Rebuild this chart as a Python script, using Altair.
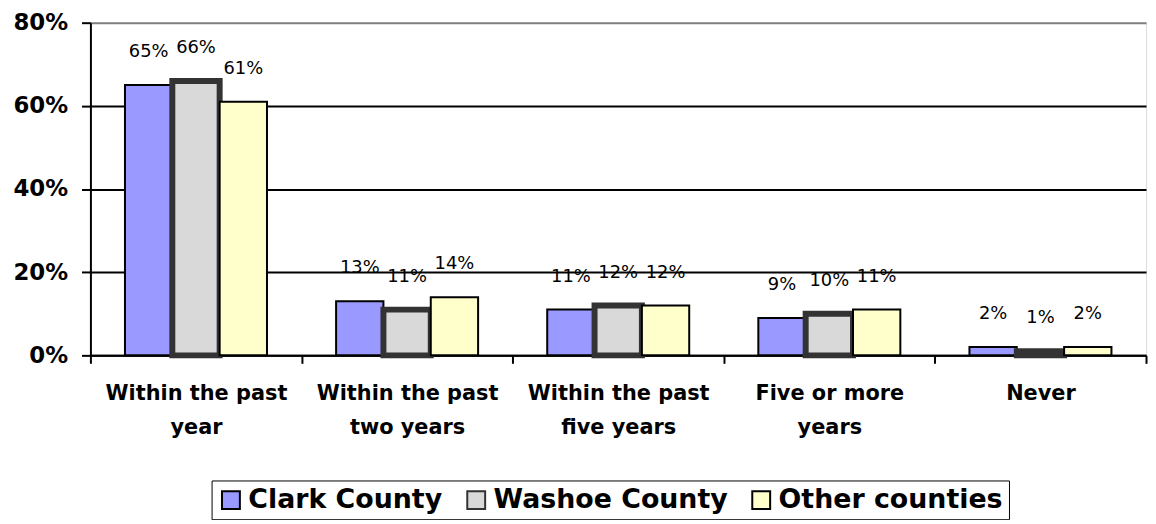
import altair as alt
import pandas as pd

categories = ["Within the past year", "Within the past two years",
              "Within the past five years", "Five or more years", "Never"]
label_lines = [["Within the past", "year"], ["Within the past", "two years"],
               ["Within the past", "five years"], ["Five or more", "years"], ["Never"]]
series = ["Clark County", "Washoe County", "Other counties"]
clark = [65, 13, 11, 9, 2]
washoe = [66, 11, 12, 10, 1]
other = [61, 14, 12, 11, 2]
y_ticks = [0, 20, 40, 60, 80]
colors = ["#9999ff", "#d9d9d9", "#ffffcc"]
strokes = ["#000000", "#333333", "#000000"]

rows = []
for s, vals in zip(series, [clark, washoe, other]):
    for c, v in zip(categories, vals):
        rows.append({"category": c, "county": s, "value": v})
df = pd.DataFrame(rows)

# build label expression for multi-line x labels
expr = "''"
for c, lines in reversed(list(zip(categories, label_lines))):
    arr = "[" + ",".join("'" + l + "'" for l in lines) + "]"
    expr = f"datum.value == '{c}' ? {arr} : ({expr})"

FONT = "DejaVu Sans"

x = alt.X("category:N", sort=categories, title=None,
          scale=alt.Scale(paddingInner=0, paddingOuter=0),
          axis=alt.Axis(labelAngle=0, labelExpr=expr, labelFontSize=21,
                        labelFontWeight="bold", labelColor="black",
                        labelFont=FONT, labelPadding=19, labelLineHeight=35,
                        tickBand="extent", tickSize=8, tickWidth=2,
                        tickColor="black", domainColor="black", domainWidth=2,
                        labelLimit=300))
xo = alt.XOffset("county:N", sort=series,
                 scale=alt.Scale(paddingOuter=0.73, paddingInner=0))
y = alt.Y("value:Q", title=None,
          scale=alt.Scale(domain=[0, 80], nice=False),
          axis=alt.Axis(values=y_ticks, labelExpr="datum.value + '%'",
                        labelFontSize=23, labelFontWeight="bold",
                        labelColor="black", labelFont=FONT, labelPadding=14,
                        tickSize=9, tickWidth=2, tickColor="black",
                        domainColor="black", domainWidth=2,
                        grid=True, gridWidth=2,
                        gridColor={"condition": {"test": "datum.value >= 80", "value": "#808080"},
                                   "value": "black"}))

base = alt.Chart(df)

bars = base.mark_bar().encode(
    x=x, xOffset=xo, y=y,
    fill=alt.Fill("county:N", sort=series,
                  scale=alt.Scale(domain=series, range=colors),
                  legend=alt.Legend(title=None, orient="none", legendX=122,
                                    legendY=461, direction="horizontal",
                                    strokeColor="black", fillColor="white",
                                    padding=6, symbolType="square",
                                    symbolSize=324, symbolStrokeWidth=2,
                                    labelFontSize=27, labelFontWeight="bold",
                                    labelFont=FONT, labelColor="black",
                                    labelOffset=4, columnPadding=20,
                                    labelLimit=400, symbolOpacity=1)),
    stroke=alt.Stroke("county:N", sort=series,
                      scale=alt.Scale(domain=series, range=strokes), legend=None),
    strokeWidth=alt.condition("datum.county == 'Washoe County'", alt.value(6), alt.value(2)),
)

labels = base.mark_text(dy=-24, fontSize=18, font=FONT, color="black",
                        baseline="bottom").encode(
    x=x, xOffset=xo, y=y,
).transform_calculate(lbl="datum.value + '%'").encode(text="lbl:N")

chart = alt.layer(bars, labels).properties(
    width=1063, height=335,
    autosize=alt.AutoSizeParams(type="none"),
    padding={"left": 83, "top": 13, "right": 2, "bottom": 164},
).configure_view(stroke=None).configure(background="white")

chart.save("out.html", embed_options={"renderer": "svg", "actions": False})
